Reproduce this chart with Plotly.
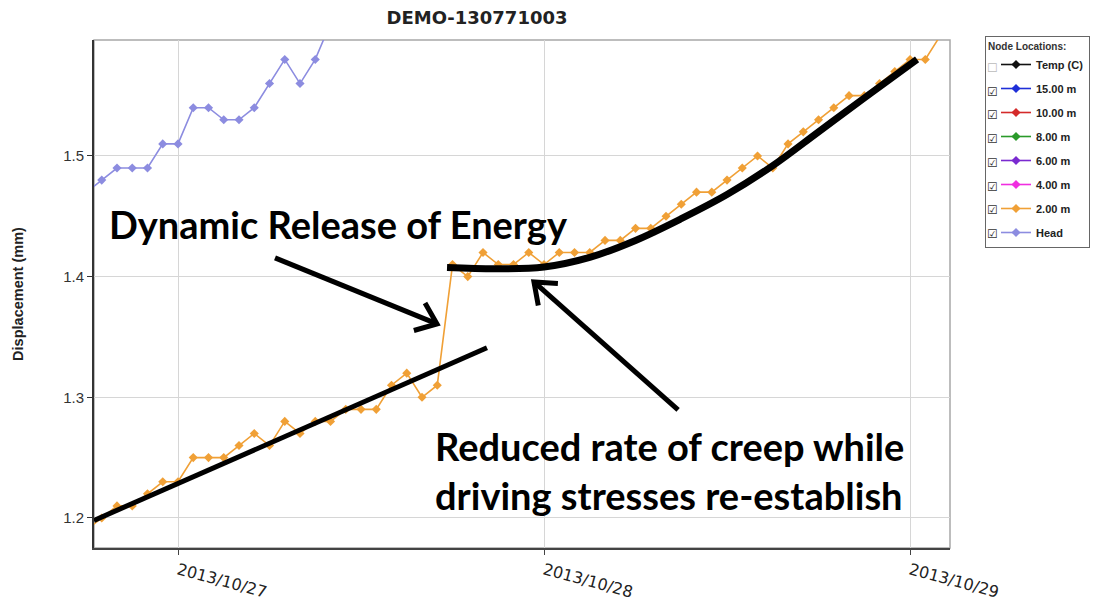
import math
import pandas as pd
import plotly.graph_objects as go

# ---------------- data ----------------
title_text = "DEMO-130771003"
y_title = "Displacement (mm)"

# hourly readings, 2.00 m node (starting 2013-10-26 18:00)
disp_2m_start = "2013-10-26 18:00"
disp_2m = [1.19, 1.20, 1.21, 1.21, 1.22, 1.23,
           1.23, 1.25, 1.25, 1.25, 1.26, 1.27, 1.26, 1.28, 1.27, 1.28, 1.28, 1.29,
           1.29, 1.29, 1.31, 1.32, 1.30, 1.31, 1.41, 1.40, 1.42, 1.41, 1.41, 1.42,
           1.41, 1.42, 1.42, 1.42, 1.43, 1.43, 1.44, 1.44, 1.45, 1.46, 1.47, 1.47,
           1.48, 1.49, 1.50, 1.49, 1.51, 1.52, 1.53, 1.54, 1.55, 1.55, 1.56, 1.57,
           1.58, 1.58, 1.60]

# hourly readings, Head (starting 2013-10-26 18:00)
head_start = "2013-10-26 18:00"
head = [1.47, 1.48, 1.49, 1.49, 1.49, 1.51, 1.51, 1.54, 1.54, 1.53, 1.53,
        1.54, 1.56, 1.58, 1.56, 1.58, 1.61]

legend_names = ["Temp (C)", "15.00 m", "10.00 m", "8.00 m", "6.00 m", "4.00 m", "2.00 m", "Head"]
legend_colors = ["#111111", "#1f2fd8", "#d42a2a", "#2a9a2a", "#7a2ad0", "#f02ee0", "#f0a036", "#8c8ce0"]
legend_checked = [False, True, True, True, True, True, True, True]

x_ticks = ["2013-10-27", "2013-10-28", "2013-10-29"]
x_tick_labels = ["2013/10/27", "2013/10/28", "2013/10/29"]
y_ticks = [1.2, 1.3, 1.4, 1.5]
y_tick_labels = ["1.2", "1.3", "1.4", "1.5"]

# annotation overlays (hours after 2013-10-27 00:00, displacement)
ref_time = "2013-10-27 00:00"
trend1_h = [-5.51, 20.26]
trend1_v = [1.198, 1.341]
trend2_h = [17.64, 21.0, 24.0, 27.0, 30.0, 33.0, 36.0, 39.0, 42.0, 45.0, 48.46]
trend2_v = [1.4075, 1.4065, 1.4080, 1.4160, 1.4300, 1.4480, 1.4680, 1.4920, 1.5200, 1.5480, 1.5801]
arrow1 = dict(tail=(6.36, 1.4155), tip=(16.98, 1.3608))
arrow2 = dict(tail=(32.79, 1.2895), tip=(23.34, 1.3956))
text1 = "Dynamic Release of Energy"
text2_lines = ["Reduced rate of creep while", "driving stresses re-establish"]

# ---------------- layout geometry ----------------
W, H = 1103, 601
ML, MR, MT, MB = 94, 153, 40, 53
PW, PH = W - ML - MR, H - MT - MB
x_range_h = [-5.508, 50.62]
y_range = [1.1751, 1.5961]
px_per_h = PW / (x_range_h[1] - x_range_h[0])
px_per_v = PH / (y_range[1] - y_range[0])

t0 = pd.Timestamp(ref_time)
def hdate(h):
    return t0 + pd.Timedelta(hours=h)

x_2m = pd.date_range(disp_2m_start, periods=len(disp_2m), freq="h")
x_head = pd.date_range(head_start, periods=len(head), freq="h")

fig = go.Figure()

for name, col in zip(legend_names, legend_colors):
    if name == "2.00 m":
        xs, ys = x_2m, disp_2m
    elif name == "Head":
        xs, ys = x_head, head
    else:
        xs, ys = [None], [None]
    fig.add_trace(go.Scatter(
        x=xs, y=ys, name=name, mode="lines+markers", legendgroup=name,
        line=dict(color=col, width=1.6),
        marker=dict(symbol="diamond", size=7, color=col),
        hoverinfo="x+y+name",
    ))

# black trend lines
fig.add_trace(go.Scatter(x=[hdate(h) for h in trend1_h], y=trend1_v, mode="lines",
                         line=dict(color="black", width=5), showlegend=False, hoverinfo="skip"))
fig.add_trace(go.Scatter(x=[hdate(h) for h in trend2_h], y=trend2_v, mode="lines",
                         line=dict(color="black", width=7, shape="spline", smoothing=1.0),
                         showlegend=False, hoverinfo="skip"))

# arrows with open chevron heads
def arrow_trace(a, arm_px=24, ang_deg=38):
    (th, tv), (hh, hv) = a["tail"], a["tip"]
    dx = (hh - th) * px_per_h
    dy = -(hv - tv) * px_per_v
    ang = math.atan2(dy, dx)
    pts = []
    for s in (+1, -1):
        aa = ang + math.pi + s * math.radians(ang_deg)
        ex = arm_px * math.cos(aa)
        ey = arm_px * math.sin(aa)
        pts.append((hh + ex / px_per_h, hv - ey / px_per_v))
    xs = [hdate(th), hdate(hh), None, hdate(pts[0][0]), hdate(hh), hdate(pts[1][0])]
    ys = [tv, hv, None, pts[0][1], hv, pts[1][1]]
    return go.Scatter(x=xs, y=ys, mode="lines", line=dict(color="black", width=5),
                      showlegend=False, hoverinfo="skip")

fig.add_trace(arrow_trace(arrow1))
fig.add_trace(arrow_trace(arrow2))

big_font = dict(family="Lato, Open Sans, sans-serif", size=38, color="black")
fig.add_annotation(text="<b>" + text1 + "</b>", xref="paper", yref="paper",
                   x=(338 - ML) / PW, y=(H - MB - 224) / PH, showarrow=False,
                   font=big_font, xanchor="center", yanchor="middle")
fig.add_annotation(text="<br>".join("<b>" + t + "</b>" for t in text2_lines), xref="paper", yref="paper",
                   x=(433 - ML) / PW, y=(H - MB - 470) / PH, showarrow=False,
                   font=big_font, xanchor="left", yanchor="middle", align="left")

# checkboxes beside legend entries
for i, chk in enumerate(legend_checked):
    ypx = 68 + 23.7 * i
    fig.add_annotation(text="☑" if chk else "☐", xref="paper", yref="paper",
                       x=(992 - ML) / PW, y=(H - MB - ypx) / PH, showarrow=False,
                       font=dict(family="DejaVu Sans", size=12, color="#333" if chk else "#bbb"),
                       xanchor="center", yanchor="middle")

# plot frame (grey top/right)
fig.add_shape(type="rect", xref="paper", yref="paper", x0=0, x1=1, y0=0, y1=1,
              line=dict(color="#a8a8a8", width=1.5), layer="below")

fig.update_layout(
    width=W, height=H,
    margin=dict(l=ML, r=MR, t=MT, b=MB, autoexpand=False),
    paper_bgcolor="white", plot_bgcolor="white",
    title=dict(text="<b>" + title_text + "</b>", x=(477 - ML) / PW, xref="paper", xanchor="center",
               y=1 - 18 / H, yanchor="middle",
               font=dict(family="DejaVu Sans", size=18, color="#222")),
    xaxis=dict(type="date", range=[hdate(x_range_h[0]), hdate(x_range_h[1])],
               tickvals=x_ticks, ticktext=x_tick_labels, tickangle=15, automargin=False,
               tickfont=dict(family="DejaVu Sans", size=16, color="#222"),
               showgrid=True, gridcolor="#d6d6d6", gridwidth=1,
               showline=True, linecolor="#444", linewidth=2,
               ticks="outside", ticklen=5, tickcolor="#444", zeroline=False),
    yaxis=dict(range=y_range, tickvals=y_ticks, ticktext=y_tick_labels, automargin=False,
               tickfont=dict(family="Liberation Sans, Arial", size=15, color="#333"),
               showgrid=True, gridcolor="#d6d6d6", gridwidth=1,
               showline=True, linecolor="#333", linewidth=2,
               ticks="outside", ticklen=5, tickcolor="#333", zeroline=False,
               title=dict(text="<b>" + y_title + "</b>", standoff=36,
                          font=dict(family="Liberation Sans, Arial", size=14.5, color="#222"))),
    legend=dict(x=1 + (985 - 950) / PW, xanchor="left", y=(H - MB - 36) / PH, yanchor="top",
                bgcolor="white", bordercolor="#666", borderwidth=1,
                title=dict(text="<b>Node Locations:</b>", font=dict(family="Liberation Sans, Arial", size=10, color="#333")),
                font=dict(family="Liberation Sans, Arial", size=11, color="#222", weight="bold"),
                tracegroupgap=5, indentation=10, itemwidth=30),
    showlegend=True,
)

fig.write_html("out.html", config={"displayModeBar": False},
               post_script="document.body.style.margin='0';document.body.style.padding='0';")
